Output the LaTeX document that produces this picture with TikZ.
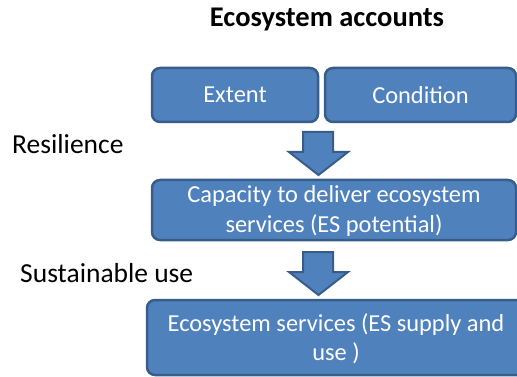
\documentclass[tikz,border=0pt]{standalone}
\usepackage{fontspec}
\setmainfont{Carlito}
\definecolor{boxfill}{HTML}{4F81BD}
\definecolor{boxline}{HTML}{385D8A}
\begin{document}
\begin{tikzpicture}[x=1pt,y=-1pt,
  box/.style={draw=boxline, line width=2.5pt, fill=boxfill, rounded corners=8pt,
    text=white, align=center, inner sep=0pt,
    font=\fontsize{24.4}{29}\selectfont},
  blockarrow/.style={draw=boxline, line width=2pt, fill=boxfill, line join=miter},
  sidelabel/.style={anchor=base west, inner sep=0pt, font=\fontsize{27.5}{32}\selectfont},
  titlelabel/.style={anchor=base, inner sep=0pt, font=\fontsize{28.5}{33}\selectfont\bfseries}]
\useasboundingbox (0,0) rectangle (517,377);
\fill[white] (0,0) rectangle (517,377);

% title
\node[titlelabel] (title) at (327,27) {Ecosystem accounts};

% account boxes
\node[box, minimum width=166pt, minimum height=54pt] (extent) at (235,95) {Extent};
\node[box, minimum width=191pt, minimum height=54pt] (condition) at (420.5,95) {Condition};
\node[box, minimum width=364pt, minimum height=60pt, text height=46pt, text depth=2pt]
  (capacity) at (334,210) {Capacity to deliver ecosystem\\services (ES potential)};
\node[box, minimum width=378pt, minimum height=75pt, text height=46pt, text depth=1pt]
  (services) at (336,337.5) {Ecosystem services (ES supply and\\use )};

% side labels
\node[sidelabel] (resilience) at (12,154) {Resilience};
\node[sidelabel] (sustain) at (20,282) {Sustainable use};

% block arrows between the boxes
\draw[blockarrow] (303,132) -- (333,132) -- (333,152) -- (348,152) -- (318.5,175)
  -- (289,152) -- (303,152) -- cycle;
\draw[blockarrow] (303,252) -- (333,252) -- (333,272) -- (348,272) -- (318.5,295)
  -- (289,272) -- (303,272) -- cycle;
\end{tikzpicture}
\end{document}
